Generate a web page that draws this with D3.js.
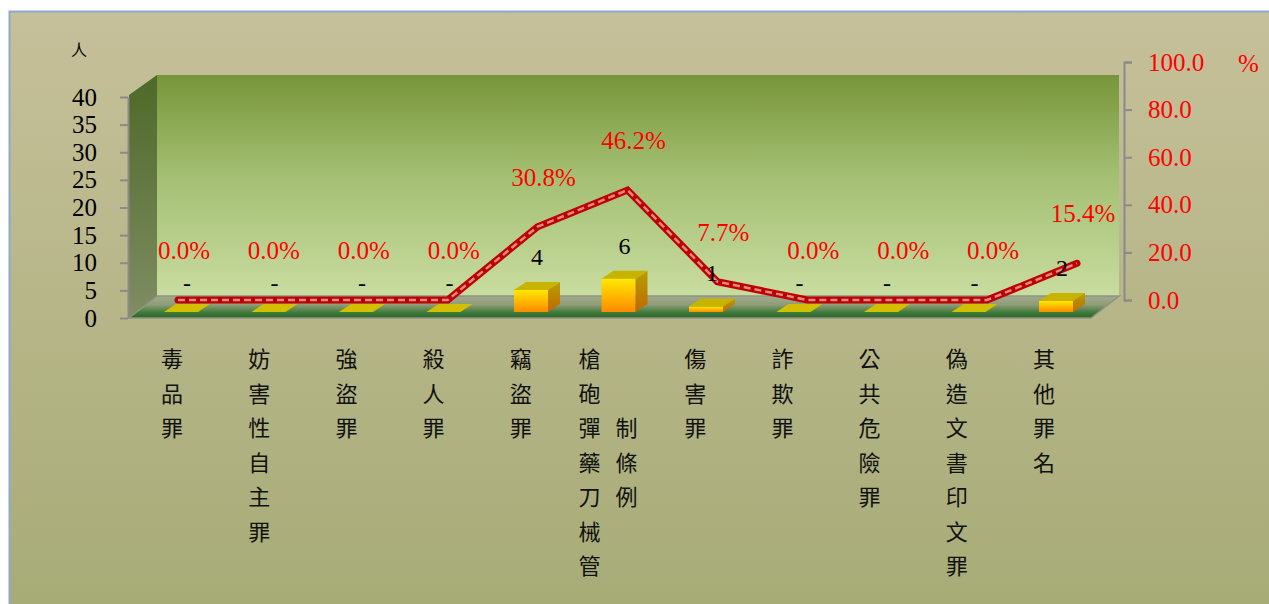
<!DOCTYPE html>
<html>
<head>
<meta charset="utf-8">
<script src="https://cdn.jsdelivr.net/npm/d3@7"></script>
<style>
  body { margin: 0; background: #fff; }
  svg { display: block; }
</style>
</head>
<body>
<div id="app"></div>
<script>
// Data
const categories = ['毒品罪', '妨害性自主罪', '強盜罪', '殺人罪', '竊盜罪', '槍砲彈藥刀械管制條例',
  '傷害罪', '詐欺罪', '公共危險罪', '偽造文書印文罪', '其他罪名'];
const counts = [0, 0, 0, 0, 4, 6, 1, 0, 0, 0, 2];
const percents = [0, 0, 0, 0, 30.8, 46.2, 7.7, 0, 0, 0, 15.4];
const countTicks = [0, 5, 10, 15, 20, 25, 30, 35, 40];
const pctTicks = [0, 20, 40, 60, 80, 100];

// Constants
const width = 1269;
const height = 604;
const depth = { dx: 28, dy: -22 };
const barDepth = { dx: 12, dy: -8 };
const barWidth = 34;
const serif = '"Liberation Serif", "Times New Roman", serif';
const cjk = '"Noto Sans CJK TC", "Noto Sans CJK JP", sans-serif';

// Scales
const yFront = d3.scaleLinear().domain([0, 40]).range([318, 97]);
const yBar = d3.scaleLinear().domain([0, 40]).range([312, 91]);
const yPct = d3.scaleLinear().domain([0, 100]).range([300, 62]);
const xBar = d3.scalePoint().domain(categories).range([181, 1056]);
const xLine = d3.scalePoint().domain(categories).range([178, 1077]);
const xLabel = d3.scalePoint().domain(categories).range([172, 1044]);
const frontLeft = 129;
const frontRight = 1091;

const svg = d3.select('#app')
  .append('svg')
  .attr('width', width)
  .attr('height', height);

// Gradients
const defs = svg.append('defs');
function vGrad(id, stops, y1, y2) {
  const g = defs.append('linearGradient')
    .attr('id', id)
    .attr('gradientUnits', 'userSpaceOnUse')
    .attr('x1', 0).attr('x2', 0)
    .attr('y1', y1).attr('y2', y2);
  stops.forEach(([o, c]) => g.append('stop').attr('offset', o).attr('stop-color', c));
}
vGrad('bgGrad', [[0, '#c6c09a'], [1, '#a7ac77']], 11, 604);
vGrad('backGrad', [[0, '#77953a'], [0.45, '#a3bf72'], [1, '#c9dca0']],
  yFront(40) + depth.dy, yFront(0) + depth.dy);
vGrad('sideGrad', [[0, '#4d6928'], [1, '#808d62']], yFront(40) + depth.dy, yFront(0));
vGrad('floorGrad', [[0, '#a2ab8c'], [0.4, '#8e9c78'], [0.75, '#3f7a3a'], [1, '#2a6628']],
  yFront(0) + depth.dy, yFront(0));
const fg = defs.append('linearGradient').attr('id', 'barFront')
  .attr('x1', 0).attr('x2', 0).attr('y1', 0).attr('y2', 1);
fg.append('stop').attr('offset', 0).attr('stop-color', '#ffe800');
fg.append('stop').attr('offset', 1).attr('stop-color', '#ff8a00');
const sg = defs.append('linearGradient').attr('id', 'barSide')
  .attr('x1', 0).attr('x2', 0).attr('y1', 0).attr('y2', 1);
sg.append('stop').attr('offset', 0).attr('stop-color', '#b89e00');
sg.append('stop').attr('offset', 1).attr('stop-color', '#c06a00');

// Outer frame
svg.append('rect')
  .attr('x', 9.5)
  .attr('y', 11.5)
  .attr('width', 1300)
  .attr('height', 700)
  .attr('fill', 'url(#bgGrad)')
  .attr('stroke', '#8ea8cf')
  .attr('stroke-width', 2);

// Walls and floor
const top0 = yFront(40);
const bot0 = yFront(0);
svg.append('rect')
  .attr('x', frontLeft + depth.dx)
  .attr('y', top0 + depth.dy)
  .attr('width', frontRight - frontLeft)
  .attr('height', bot0 - top0)
  .attr('fill', 'url(#backGrad)');
svg.append('polygon')
  .attr('points', [
    [frontLeft, top0 - 2], [frontLeft + depth.dx, top0 + depth.dy],
    [frontLeft + depth.dx, bot0 + depth.dy], [frontLeft, bot0],
  ].join(' '))
  .attr('fill', 'url(#sideGrad)');
svg.append('polygon')
  .attr('points', [
    [frontLeft, bot0], [frontLeft + depth.dx, bot0 + depth.dy],
    [frontRight + depth.dx, bot0 + depth.dy], [frontRight, bot0],
  ].join(' '))
  .attr('fill', 'url(#floorGrad)')
  .attr('stroke', '#8d9480')
  .attr('stroke-width', 1.5);

// Bars (3D boxes)
const bars = svg.append('g').attr('id', 'bars');
categories.forEach((c, i) => {
  const x = xBar(c) - barWidth / 2;
  const t = yBar(counts[i]);
  const b = yBar(0);
  const g = bars.append('g');
  if (counts[i] > 0) {
    g.append('rect')
      .attr('x', x).attr('y', t)
      .attr('width', barWidth).attr('height', b - t)
      .attr('fill', 'url(#barFront)');
    g.append('polygon')
      .attr('points', [[x + barWidth, t], [x + barWidth + barDepth.dx, t + barDepth.dy],
        [x + barWidth + barDepth.dx, b + barDepth.dy], [x + barWidth, b]].join(' '))
      .attr('fill', 'url(#barSide)');
  }
  g.append('polygon')
    .attr('points', [[x, t], [x + barDepth.dx, t + barDepth.dy],
      [x + barWidth + barDepth.dx, t + barDepth.dy], [x + barWidth, t]].join(' '))
    .attr('fill', counts[i] > 0 ? '#c8b400' : '#d2c000');
});

// Percent line
const line = d3.line()
  .x((d, i) => xLine(categories[i]))
  .y((d) => yPct(d));
svg.append('path')
  .attr('d', line(percents))
  .attr('fill', 'none')
  .attr('stroke', '#c00000')
  .attr('stroke-width', 7)
  .attr('stroke-linecap', 'round');
svg.append('path')
  .attr('d', line(percents))
  .attr('fill', 'none')
  .attr('stroke', '#dc8a88')
  .attr('stroke-width', 2.5)
  .attr('stroke-dasharray', '7 4');

// Axes
const leftAxis = svg.append('g')
  .attr('transform', `translate(${frontLeft - 1}, 0)`)
  .call(d3.axisLeft(yFront).tickValues(countTicks).tickSize(8).tickSizeOuter(0).tickPadding(23));
const rightAxis = svg.append('g')
  .attr('transform', 'translate(1124, 0)')
  .call(d3.axisRight(yPct).tickValues(pctTicks).tickSize(8).tickPadding(16)
    .tickFormat(d3.format('.1f')));
[leftAxis, rightAxis].forEach((ax) => {
  ax.selectAll('path, line').attr('stroke', '#8a8a8a').attr('stroke-width', 2);
  ax.selectAll('text').style('font-family', serif).style('font-size', '25px');
});
leftAxis.selectAll('text').attr('fill', '#000');
rightAxis.selectAll('text').attr('fill', '#ff0000');

svg.append('text')
  .attr('x', 79).attr('y', 56)
  .attr('text-anchor', 'middle')
  .style('font-family', cjk).style('font-size', '16px')
  .text('人');
svg.append('text')
  .attr('x', 1238).attr('y', 72)
  .attr('fill', '#ff0000')
  .style('font-family', serif).style('font-size', '25px')
  .text('%');

// Data labels
svg.append('g').selectAll('text')
  .data(counts)
  .join('text')
  .attr('x', (d, i) => xBar(categories[i]) + 6)
  .attr('y', (d) => yBar(d) - (d === 0 ? 21 : 25))
  .attr('text-anchor', 'middle')
  .style('font-family', serif).style('font-size', '24px')
  .text((d) => (d === 0 ? '-' : d));
svg.append('g').selectAll('text')
  .data(percents)
  .join('text')
  .attr('x', (d, i) => xLine(categories[i]) + 6)
  .attr('y', (d) => yPct(d) - 41)
  .attr('text-anchor', 'middle')
  .attr('fill', '#ff0000')
  .style('font-family', serif).style('font-size', '25px')
  .text((d) => `${d.toFixed(1)}%`);

// Category labels (vertical, wrapped at 7 characters)
const rowStep = 34.5;
const firstRow = 357;
const catG = svg.append('g');
categories.forEach((c) => {
  const chars = Array.from(c);
  const cols = [];
  for (let k = 0; k < chars.length; k += 7) cols.push(chars.slice(k, k + 7));
  const maxRows = cols[0].length;
  cols.forEach((col, ci) => {
    const cx = xLabel(c) + (ci - (cols.length - 1) / 2) * 37;
    const offset = (maxRows - col.length) / 2;
    col.forEach((ch, r) => {
      catG.append('text')
        .attr('x', cx)
        .attr('y', firstRow + (r + offset) * rowStep)
        .attr('text-anchor', 'middle')
        .attr('dominant-baseline', 'central')
        .style('font-family', cjk).style('font-size', '22px')
        .attr('fill', '#111')
        .text(ch);
    });
  });
});
</script>
</body>
</html>
